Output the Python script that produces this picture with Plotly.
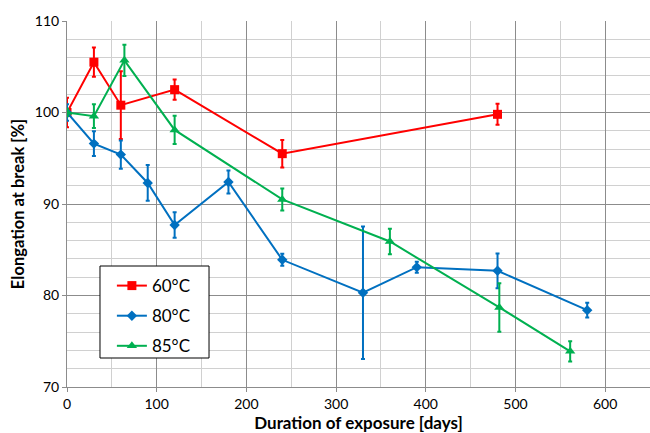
import plotly.graph_objects as go

days_60 = [0, 30, 60, 120, 240, 480]
elong_60 = [100.0, 105.5, 100.8, 102.5, 95.5, 99.8]
err_60 = [1.6, 1.6, 3.7, 1.1, 1.5, 1.15]

days_80 = [0, 30, 60, 90, 120, 180, 240, 330, 390, 480, 580]
elong_80 = [100.0, 96.6, 95.4, 92.3, 87.7, 92.4, 83.9, 80.3, 83.1, 82.7, 78.4]
err_80 = [0.9, 1.35, 1.55, 1.95, 1.4, 1.25, 0.65, 7.25, 0.6, 1.9, 0.8]

days_85 = [0, 30, 64, 120, 240, 360, 482, 561]
elong_85 = [100.0, 99.6, 105.7, 98.1, 90.5, 85.9, 78.7, 73.9]
err_85 = [0.4, 1.3, 1.7, 1.55, 1.2, 1.4, 2.65, 1.1]

series = [
    ("60°C", days_60, elong_60, err_60, "#FF0000", "square", 9),
    ("80°C", days_80, elong_80, err_80, "#0070C0", "diamond", 8),
    ("85°C", days_85, elong_85, err_85, "#00B050", "triangle-up", 9),
]

fig = go.Figure()
for name, x, y, e, c, sym, sz in series:
    fig.add_trace(go.Scatter(
        x=x, y=y, name=name, mode="lines+markers", legendgroup=name,
        line=dict(color=c, width=2),
        marker=dict(symbol=sym, size=sz, color=c),
        error_y=dict(type="data", array=e, visible=True, color=c,
                     thickness=2, width=2),
    ))

# legend frame (white box with black border)
fig.add_shape(type="rect", xref="paper", yref="paper",
              x0=0.0566, x1=0.2436, y0=0.0792, y1=0.3306,
              fillcolor="white", line=dict(color="black", width=1),
              layer="above")

fontfam = "Lato, Open Sans, sans-serif"
fig.update_layout(
    width=650, height=433,
    margin=dict(l=67, r=0, t=21, b=46),
    paper_bgcolor="white", plot_bgcolor="white",
    font=dict(family=fontfam, size=14, color="black"),
    showlegend=True,
    legend=dict(
        x=0.077, y=0.325, xanchor="left", yanchor="top",
        bgcolor="rgba(0,0,0,0)", borderwidth=0,
        font=dict(size=17, family=fontfam),
        itemwidth=30, tracegroupgap=5,
    ),
    xaxis=dict(
        range=[0, 650], tickvals=[0, 100, 200, 300, 400, 500, 600],
        showgrid=True, gridcolor="#8c8c8c", gridwidth=1,
        minor=dict(dtick=50, showgrid=True, gridcolor="#d0d0d0", gridwidth=1),
        showline=True, linecolor="#8c8c8c", linewidth=1,
        ticks="outside", ticklen=4, tickcolor="#8c8c8c",
        zeroline=False,
        title=dict(text="<b>Duration of exposure [days]</b>",
                   font=dict(size=17, family=fontfam), standoff=4),
    ),
    yaxis=dict(
        range=[70, 110], tickvals=[70, 80, 90, 100, 110],
        showgrid=True, gridcolor="#8c8c8c", gridwidth=1,
        minor=dict(dtick=2, showgrid=True, gridcolor="#d0d0d0", gridwidth=1),
        showline=True, linecolor="#8c8c8c", linewidth=1,
        ticks="outside", ticklen=4, tickcolor="#8c8c8c",
        zeroline=False,
        title=dict(text="<b>Elongation at break [%]</b>",
                   font=dict(size=16.5, family=fontfam), standoff=6),
    ),
)

fig.write_html("out.html")
